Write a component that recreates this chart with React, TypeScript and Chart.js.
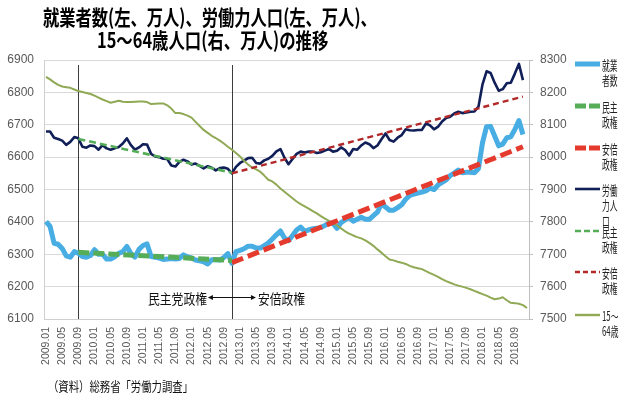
import React, { useEffect, useLayoutEffect, useRef, useState } from 'react';
import { Chart, registerables } from 'chart.js';

Chart.register(...registerables);

// ---------- data ----------
const years = [2009, 2010, 2011, 2012, 2013, 2014, 2015, 2016, 2017, 2018];
const monthCodes = ['01', '02', '03', '04', '05', '06', '07', '08', '09', '10', '11', '12'];
const periods = years.flatMap((y) => monthCodes.map((m) => `${y}.${m}`));

// 就業者数 (left axis, 万人) 2009.01 - 2018.11
const employed = [
  6401, 6386, 6334, 6331, 6318, 6295, 6291, 6308, 6303, 6293,
  6291, 6296, 6314, 6300, 6300, 6285, 6285, 6292, 6303, 6308,
  6324, 6302, 6291, 6315, 6327, 6332, 6293, 6291, 6288, 6284,
  6285, 6287, 6285, 6287, 6298, 6292, 6289, 6282, 6280, 6277,
  6270, 6283, 6283, 6282, 6290, 6302, 6272, 6308, 6312, 6317,
  6325, 6325, 6319, 6319, 6327, 6335, 6347, 6360, 6372, 6350,
  6342, 6358, 6375, 6384, 6371, 6375, 6379, 6380, 6383, 6389,
  6396, 6396, 6380, 6398, 6406, 6414, 6402, 6408, 6414, 6408,
  6408, 6419, 6430, 6456, 6446, 6436, 6436, 6444, 6453, 6470,
  6482, 6486, 6489, 6492, 6496, 6504, 6500, 6514, 6522, 6530,
  6543, 6551, 6560, 6552, 6553, 6553, 6552, 6565, 6645, 6694,
  6695, 6665, 6635, 6640, 6660, 6663, 6685, 6713, 6670,
];

// 労働力人口 (left axis, 万人) 2009.01 - 2018.11
const laborForce = [
  6679, 6679, 6660, 6656, 6651, 6638, 6647, 6662, 6658, 6632,
  6629, 6636, 6634, 6623, 6637, 6627, 6623, 6627, 6631, 6642,
  6658, 6637, 6623, 6630, 6640, 6639, 6610, 6602, 6600, 6595,
  6594, 6574, 6571, 6585, 6592, 6587, 6577, 6580, 6573, 6565,
  6572, 6567, 6559, 6566, 6568, 6564, 6550, 6570, 6582, 6589,
  6597, 6598, 6582, 6580, 6590, 6595, 6604, 6618, 6625, 6598,
  6578, 6594, 6610, 6617, 6614, 6617, 6617, 6613, 6615, 6620,
  6625, 6617, 6620, 6630, 6622, 6605, 6625, 6623, 6636, 6645,
  6640, 6628, 6636, 6655, 6673, 6653, 6648, 6660, 6668, 6686,
  6683, 6682, 6684, 6684, 6704, 6698, 6686, 6694, 6710, 6721,
  6725, 6735, 6740, 6736, 6738, 6740, 6741, 6756, 6825, 6865,
  6860, 6830, 6805, 6810, 6828, 6830, 6858, 6888, 6838,
];

// 15～64歳人口 (right axis, 万人) 2009.01 - 2018.12
const pop15to64 = [
  8248, 8240, 8231, 8223, 8218, 8216, 8214, 8209, 8204, 8201,
  8198, 8195, 8190, 8184, 8178, 8173, 8168, 8171, 8174, 8171,
  8170, 8170, 8171, 8172, 8172, 8170, 8164, 8165, 8166, 8166,
  8160, 8150, 8136, 8136, 8133, 8128, 8122, 8109, 8096, 8084,
  8075, 8066, 8059, 8051, 8042, 8032, 8023, 8013, 8002, 7989,
  7977, 7968, 7962, 7955, 7943, 7930, 7925, 7915, 7903, 7893,
  7883, 7873, 7863, 7855, 7848, 7841, 7833, 7826, 7818, 7810,
  7803, 7796, 7789, 7780, 7771, 7764, 7758, 7753, 7749, 7743,
  7735, 7726, 7715, 7705, 7694, 7684, 7681, 7677, 7674, 7670,
  7664, 7660, 7657, 7654, 7648, 7642, 7636, 7630, 7623, 7617,
  7612, 7607, 7603, 7600, 7596, 7592, 7587, 7582, 7577, 7572,
  7566, 7561, 7563, 7567, 7558, 7550, 7549, 7547, 7543, 7534,
];

// linear trend lines (start, end)
const dpjPeriod = ['2009.09', '2012.11'];
const abePeriod = ['2012.11', '2018.11'];
const dpjEmployedTrend = [6306, 6281];
const abeEmployedTrend = [6274, 6632];
const dpjLaborTrend = [6656, 6552];
const abeLaborTrend = [6550, 6787];

const boundaryPeriods = ['2009.09', '2012.11'];
const leftAxisRange = [6100, 6900];
const rightAxisRange = [7500, 8300];
const axisStep = 100;
const xLabelEvery = 4;

// ---------- styles ----------
const BLUE = '#48ade3';
const NAVY = '#101f58';
const OLIVE = '#90a955';
const GREEN = '#55ad57';
const RED = '#e53b2e';
const DARKRED = '#b3292a';
const TICK_FONT = '"Liberation Sans", Arial, sans-serif';
const JP_FONT = '"Noto Sans CJK JP", "Noto Sans", sans-serif';

const legendItems = [
  { lines: ['就業', '者数'], color: BLUE, width: 5, dash: [] as number[], y: 64 },
  { lines: ['民主', '政権'], color: GREEN, width: 5, dash: [11, 3], y: 106 },
  { lines: ['安倍', '政権'], color: RED, width: 5, dash: [11, 3], y: 148 },
  { lines: ['労働', '力人', '口'], color: NAVY, width: 2.6, dash: [] as number[], y: 189 },
  { lines: ['民主', '政権'], color: GREEN, width: 2.6, dash: [6, 3], y: 231 },
  { lines: ['安倍', '政権'], color: DARKRED, width: 2.4, dash: [5, 3], y: 272 },
  { lines: ['15～', '64歳'], color: OLIVE, width: 2.4, dash: [] as number[], y: 315 },
];

const trendPoints = (period: string[], vals: number[]) =>
  period.map((p, i) => ({ x: p, y: vals[i] }));

const overlayPlugin = {
  id: 'overlay',
  beforeDatasetsDraw(chart: any) {
    const { ctx, chartArea, scales } = chart;
    const x = scales.x;
    ctx.save();
    ctx.strokeStyle = '#3c3c3c';
    ctx.lineWidth = 1;
    for (const lab of boundaryPeriods) {
      const px = Math.round(x.getPixelForValue(periods.indexOf(lab))) + 0.5;
      ctx.beginPath();
      ctx.moveTo(px, chartArea.top + 5);
      ctx.lineTo(px, chartArea.bottom);
      ctx.stroke();
    }
    ctx.restore();
  },
  afterDraw(chart: any) {
    const { ctx, chartArea, scales } = chart;
    const x = scales.x;
    // double arrow
    const cx = x.getPixelForValue(periods.indexOf(boundaryPeriods[1]));
    const ay = chartArea.bottom - 21.5;
    ctx.save();
    ctx.strokeStyle = '#111';
    ctx.fillStyle = '#111';
    ctx.lineWidth = 1;
    ctx.beginPath();
    ctx.moveTo(cx - 20, ay);
    ctx.lineTo(cx + 20, ay);
    ctx.stroke();
    ctx.beginPath();
    ctx.moveTo(cx - 24, ay);
    ctx.lineTo(cx - 19, ay - 2.5);
    ctx.lineTo(cx - 19, ay + 2.5);
    ctx.closePath();
    ctx.fill();
    ctx.beginPath();
    ctx.moveTo(cx + 24, ay);
    ctx.lineTo(cx + 19, ay - 2.5);
    ctx.lineTo(cx + 19, ay + 2.5);
    ctx.closePath();
    ctx.fill();
    // legend samples
    for (const it of legendItems) {
      ctx.beginPath();
      ctx.setLineDash(it.dash);
      ctx.lineWidth = it.width;
      ctx.strokeStyle = it.color;
      ctx.lineCap = 'butt';
      ctx.moveTo(575, it.y);
      ctx.lineTo(600, it.y);
      ctx.stroke();
    }
    ctx.restore();
  },
};

function FitText(props: {
  text: string; left: number; cy: number; width: number; size: number;
  bold?: boolean; color?: string;
}) {
  const ref = useRef<HTMLSpanElement>(null);
  const [s, setS] = useState(1);
  useLayoutEffect(() => {
    if (ref.current) {
      const w = ref.current.offsetWidth;
      if (w > 0) setS(props.width / w);
    }
  }, [props.text, props.width, props.size]);
  return (
    <span
      ref={ref}
      style={{
        position: 'absolute',
        left: props.left,
        top: props.cy - props.size / 2,
        whiteSpace: 'nowrap',
        fontFamily: JP_FONT,
        fontSize: props.size,
        fontWeight: props.bold ? 700 : 400,
        lineHeight: `${props.size}px`,
        color: props.color || '#111',
        transform: `scaleX(${s})`,
        transformOrigin: 'left center',
      }}
    >
      {props.text}
    </span>
  );
}

export default function App() {
  const canvasRef = useRef<HTMLCanvasElement>(null);

  useEffect(() => {
    const canvas = canvasRef.current;
    if (!canvas) return;
    const chart = new Chart(canvas, {
      type: 'line',
      data: {
        labels: periods,
        datasets: [
          {
            label: '民主政権(労働力人口)',
            data: trendPoints(dpjPeriod, dpjLaborTrend) as any,
            borderColor: GREEN, borderWidth: 2.6, borderDash: [7, 4],
            pointRadius: 0, yAxisID: 'y', order: 0,
          },
          {
            label: '安倍政権(労働力人口)',
            data: trendPoints(abePeriod, abeLaborTrend) as any,
            borderColor: DARKRED, borderWidth: 2.4, borderDash: [6, 4],
            pointRadius: 0, yAxisID: 'y', order: 0,
          },
          {
            label: '民主政権(就業者数)',
            data: trendPoints(dpjPeriod, dpjEmployedTrend) as any,
            borderColor: GREEN, borderWidth: 5, borderDash: [11, 4],
            pointRadius: 0, yAxisID: 'y', order: 1,
          },
          {
            label: '安倍政権(就業者数)',
            data: trendPoints(abePeriod, abeEmployedTrend) as any,
            borderColor: RED, borderWidth: 5, borderDash: [12, 5],
            pointRadius: 0, yAxisID: 'y', order: 1,
          },
          {
            label: '15～64歳',
            data: pop15to64,
            borderColor: OLIVE, borderWidth: 2, pointRadius: 0,
            yAxisID: 'y2', order: 2,
          },
          {
            label: '労働力人口',
            data: laborForce,
            borderColor: NAVY, borderWidth: 2.6, pointRadius: 0,
            yAxisID: 'y', order: 3,
          },
          {
            label: '就業者数',
            data: employed,
            borderColor: BLUE, borderWidth: 5, pointRadius: 0,
            yAxisID: 'y', order: 4,
          },
        ],
      },
      options: {
        responsive: false,
        animation: false,
        devicePixelRatio: 1,
        events: [],
        layout: { padding: { top: 60, left: 0, right: 0, bottom: 0 } },
        elements: { line: { tension: 0, borderJoinStyle: 'round', borderCapStyle: 'butt' } },
        plugins: { legend: { display: false }, tooltip: { enabled: false }, title: { display: false } },
        scales: {
          x: {
            type: 'category',
            offset: true,
            grid: { display: false, drawTicks: false },
            border: { display: true, color: '#cfcfcf', width: 1 },
            ticks: {
              autoSkip: false,
              maxRotation: 90,
              minRotation: 90,
              padding: 8,
              color: '#595959',
              font: { family: TICK_FONT, size: 10.5 },
              callback: (_v: any, i: number) => (i % xLabelEvery === 0 ? periods[i] : ''),
            },
            afterFit: (s: any) => { s.height = 76; },
          },
          y: {
            position: 'left',
            min: leftAxisRange[0],
            max: leftAxisRange[1],
            grid: { color: '#d9d9d9', drawTicks: false, lineWidth: 1 },
            border: { display: true, color: '#cfcfcf' },
            ticks: {
              stepSize: axisStep,
              padding: 10,
              color: '#595959',
              font: { family: TICK_FONT, size: 12 },
              callback: (v: any) => String(v),
            },
            afterFit: (s: any) => { s.width = 44; },
          },
          y2: {
            position: 'right',
            min: rightAxisRange[0],
            max: rightAxisRange[1],
            grid: { drawOnChartArea: false, drawTicks: true, tickLength: 4, color: '#bfbfbf' },
            border: { display: true, color: '#bfbfbf' },
            ticks: {
              stepSize: axisStep,
              padding: 7,
              color: '#595959',
              font: { family: TICK_FONT, size: 12 },
              callback: (v: any) => String(v),
            },
            afterFit: (s: any) => { s.width = 100; },
          },
        },
      },
      plugins: [overlayPlugin],
    } as any);
    return () => chart.destroy();
  }, []);

  return (
    <div
      style={{
        position: 'absolute', left: 0, top: 0, width: 629, height: 395,
        background: '#ffffff', overflow: 'hidden',
      }}
    >
      <canvas
        ref={canvasRef}
        width={629}
        height={395}
        style={{ position: 'absolute', left: 0, top: 0, width: 629, height: 395 }}
      />
      <FitText text="就業者数(左、万人)、労働力人口(左、万人)、" left={43} cy={16} width={334} size={21} bold color="#000" />
      <FitText text="15～64歳人口(右、万人)の推移" left={97} cy={39} width={231} size={21} bold color="#000" />
      <FitText text="民主党政権" left={148} cy={297.5} width={59} size={14} />
      <FitText text="安倍政権" left={258} cy={297.5} width={47} size={14} />
      <FitText text="（資料）総務省「労働力調査」" left={48} cy={385} width={145} size={13} />
      {legendItems.map((it, k) =>
        it.lines.map((ln, j) => (
          <span
            key={`${k}-${j}`}
            style={{
              position: 'absolute',
              left: 602,
              top: it.y + j * 15.5 - 6.5,
              whiteSpace: 'nowrap',
              fontFamily: JP_FONT,
              fontSize: 13,
              lineHeight: '13px',
              color: '#222',
              transform: 'scaleX(0.6)',
              transformOrigin: 'left center',
            }}
          >
            {ln}
          </span>
        ))
      )}
    </div>
  );
}
